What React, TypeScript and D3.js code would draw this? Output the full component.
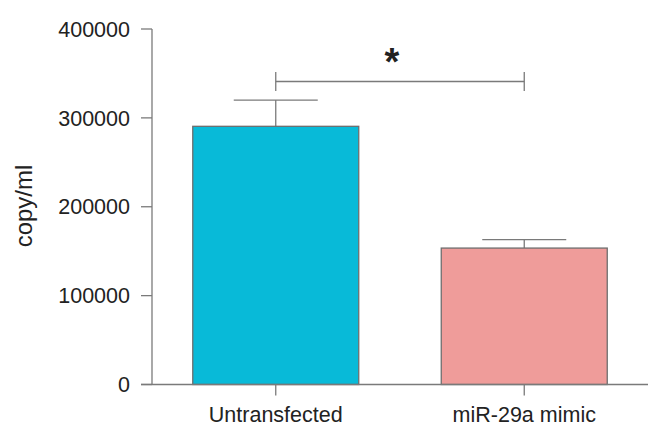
import React from "react";
import * as d3 from "d3";

const categories = ["Untransfected", "miR-29a mimic"];
const means = [290500, 153500];
const errors = [29500, 9500];
const barColors = ["#08bad8", "#ef9c9a"];
const yTicks = [0, 100000, 200000, 300000, 400000];
const yLabel = "copy/ml";
const sigLabel = "*";

export default function App() {
  const W = 648, H = 426;
  const font = "'Liberation Sans', Arial, Helvetica, sans-serif";
  const axisColor = "#7a7a7a";
  const y = d3.scaleLinear().domain([0, 400000]).range([384.5, 29]);
  const x = d3.scaleBand().domain(categories).range([152, 648]).paddingInner(0.332).paddingOuter(0.164);
  const cx = (c: string) => (x(c) as number) + x.bandwidth() / 2;
  const cap = 42;
  const x0 = cx(categories[0]);
  const x1 = cx(categories[1]);
  const bracketY = 81.5;
  return (
    <svg width={W} height={H} style={{ position: "absolute", left: 0, top: 0, background: "#fff" }}>
      {/* y axis */}
      <line x1={152} x2={152} y1={y(400000)} y2={y(0)} stroke={axisColor} strokeWidth={1.3} />
      {yTicks.map((t) => (
        <g key={t}>
          <line x1={141} x2={152} y1={y(t)} y2={y(t)} stroke={axisColor} strokeWidth={1.3} />
          <text x={130} y={y(t)} dy="0.36em" textAnchor="end" fontFamily={font} fontSize={21.5} fill="#222">
            {t}
          </text>
        </g>
      ))}
      <text
        transform={`translate(32,206) rotate(-90)`}
        textAnchor="middle"
        fontFamily={font}
        fontSize={24}
        fill="#222"
      >
        {yLabel}
      </text>
      {/* bars */}
      {categories.map((c, i) => (
        <g key={c}>
          <line x1={cx(c)} x2={cx(c)} y1={y(means[i])} y2={y(means[i] + errors[i])} stroke={axisColor} strokeWidth={1.3} />
          <line x1={cx(c) - cap} x2={cx(c) + cap} y1={y(means[i] + errors[i])} y2={y(means[i] + errors[i])} stroke={axisColor} strokeWidth={1.3} />
          <rect
            x={x(c)}
            y={y(means[i])}
            width={x.bandwidth()}
            height={y(0) - y(means[i])}
            fill={barColors[i]}
            stroke="#6e6e6e"
            strokeWidth={1.3}
          />
          <line x1={cx(c)} x2={cx(c)} y1={y(0)} y2={y(0) + 11} stroke={axisColor} strokeWidth={1.3} />
          <text x={cx(c)} y={422} textAnchor="middle" fontFamily={font} fontSize={21.5} fill="#222">
            {c}
          </text>
        </g>
      ))}
      {/* x axis */}
      <line x1={141} x2={648} y1={y(0)} y2={y(0)} stroke={axisColor} strokeWidth={1.3} />
      {/* significance bracket */}
      <line x1={x0} x2={x1} y1={bracketY} y2={bracketY} stroke={axisColor} strokeWidth={1.3} />
      <line x1={x0} x2={x0} y1={bracketY - 9.5} y2={bracketY + 9.5} stroke={axisColor} strokeWidth={1.3} />
      <line x1={x1} x2={x1} y1={bracketY - 9.5} y2={bracketY + 9.5} stroke={axisColor} strokeWidth={1.3} />
      <text x={(x0 + x1) / 2 - 8} y={75} textAnchor="middle" fontFamily={font} fontSize={38} fontWeight="bold" fill="#222">
        {sigLabel}
      </text>
    </svg>
  );
}
